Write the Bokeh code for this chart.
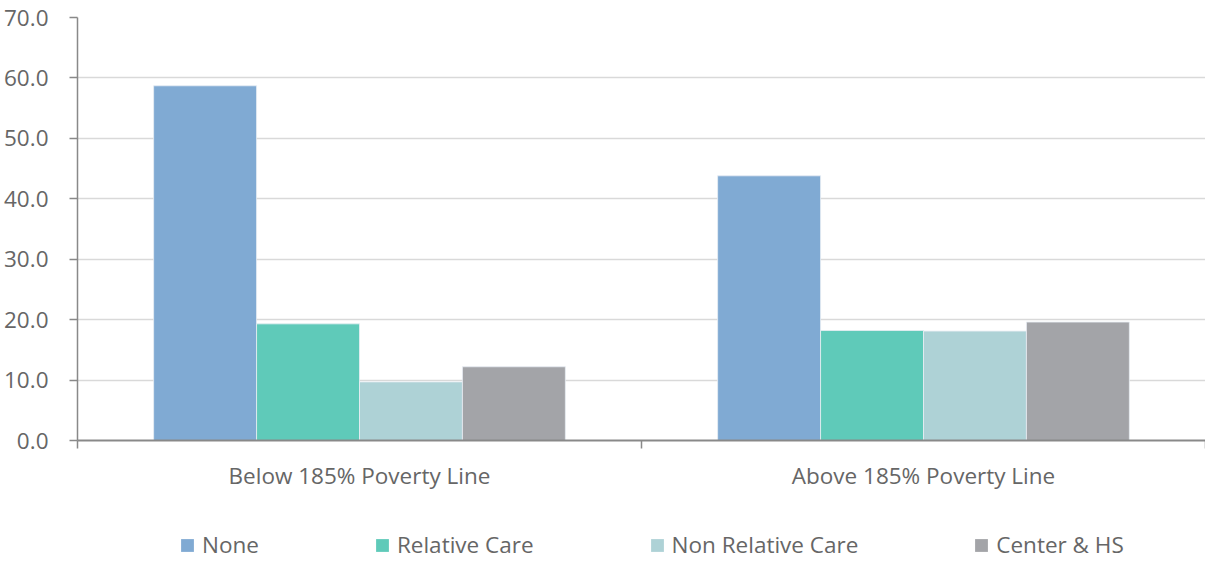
from bokeh.plotting import figure
from bokeh.layouts import column
from bokeh.models import (ColumnDataSource, FixedTicker, NumeralTickFormatter,
                          Range1d, Legend, LegendItem)
from bokeh.transform import dodge
from bokeh.embed import file_html
from bokeh.resources import INLINE

categories = ["Below 185% Poverty Line", "Above 185% Poverty Line"]
series = ["None", "Relative Care", "Non Relative Care", "Center & HS"]
none_vals = [58.7, 43.8]
relative_vals = [19.3, 18.2]
nonrelative_vals = [9.7, 18.1]
center_vals = [12.2, 19.6]
colors = ["#80AAD3", "#5FCAB9", "#AED2D6", "#A3A4A8"]
y_ticks = [0, 10, 20, 30, 40, 50, 60, 70]

FONT = "Open Sans"
TXT = "#666666"
FS = "22.5px"

xpos = [i + 0.5 for i in range(len(categories))]
src = ColumnDataSource(dict(x=xpos, none=none_vals, rel=relative_vals,
                            nonrel=nonrelative_vals, center=center_vals))

p = figure(width=1205, height=500, output_backend="svg", toolbar_location=None,
           x_range=Range1d(0, len(categories)), y_range=Range1d(0, 70),
           min_border_left=77, min_border_top=17, min_border_right=0,
           min_border_bottom=60)
p.outline_line_color = None
p.background_fill_color = "white"
p.border_fill_color = "white"

bw = 0.1825
offsets = [-1.5 * bw, -0.5 * bw, 0.5 * bw, 1.5 * bw]
fields = ["none", "rel", "nonrel", "center"]
for f, off, c in zip(fields, offsets, colors):
    p.vbar(x=dodge("x", off), top=f, width=bw, bottom=0, source=src,
           fill_color=c, line_color="#E8EEF4", line_width=0.8)

# y axis
p.yaxis.ticker = FixedTicker(ticks=y_ticks)
p.yaxis.formatter = NumeralTickFormatter(format="0.0")
p.yaxis.major_label_text_font = FONT
p.yaxis.major_label_text_font_size = FS
p.yaxis.major_label_text_color = TXT
p.yaxis.axis_line_color = "#898989"
p.yaxis.axis_line_width = 1.5
p.yaxis.major_tick_line_color = "#898989"
p.yaxis.major_tick_line_width = 1.5
p.yaxis.major_tick_out = 8
p.yaxis.major_tick_in = 0
p.yaxis.minor_tick_line_color = None
p.yaxis.major_label_standoff = 21

# x axis
p.xaxis.ticker = FixedTicker(ticks=xpos, minor_ticks=list(range(len(categories) + 1)))
p.xaxis.major_label_overrides = {x: c for x, c in zip(xpos, categories)}
p.xaxis.major_label_text_font = FONT
p.xaxis.major_label_text_font_size = FS
p.xaxis.major_label_text_color = TXT
p.xaxis.axis_line_color = "#898989"
p.xaxis.axis_line_width = 2
p.xaxis.major_tick_out = 0
p.xaxis.major_tick_in = 0
p.xaxis.minor_tick_line_color = "#898989"
p.xaxis.minor_tick_line_width = 1.5
p.xaxis.minor_tick_out = 8
p.xaxis.minor_tick_in = 0
p.xaxis.major_label_standoff = 11

p.xgrid.grid_line_color = None
p.ygrid.ticker = FixedTicker(ticks=y_ticks)
p.ygrid.grid_line_color = "#D9D9D9"
p.ygrid.grid_line_width = 1.5

# legend strip (separate figure so the legend is not clipped)
lf = figure(width=1205, height=60, output_backend="svg", toolbar_location=None,
            x_range=Range1d(0, 1), y_range=Range1d(0, 1),
            min_border_left=0, min_border_right=0, min_border_top=0,
            min_border_bottom=0)
lf.axis.visible = False
lf.grid.visible = False
lf.outline_line_color = None
leg_src = ColumnDataSource(dict(x=[5.0], top=[5.0]))
leg_renderers = []
for c in colors:
    leg_renderers.append(lf.vbar(x="x", top="top", width=0.1, source=leg_src,
                                 fill_color=c, line_color=None))

legend = Legend(items=[LegendItem(label=s, renderers=[r]) for s, r in zip(series, leg_renderers)],
                orientation="horizontal", location=(102, 0),
                border_line_color=None, background_fill_alpha=0,
                label_text_font=FONT, label_text_font_size=FS,
                label_text_color=TXT, glyph_width=16, glyph_height=16,
                label_height=24,
                label_standoff=7, spacing=115, padding=0, margin=0)
lf.add_layout(legend, "center")

layout = column(p, lf, spacing=0)
open("out.html", "w").write(file_html(layout, INLINE))
